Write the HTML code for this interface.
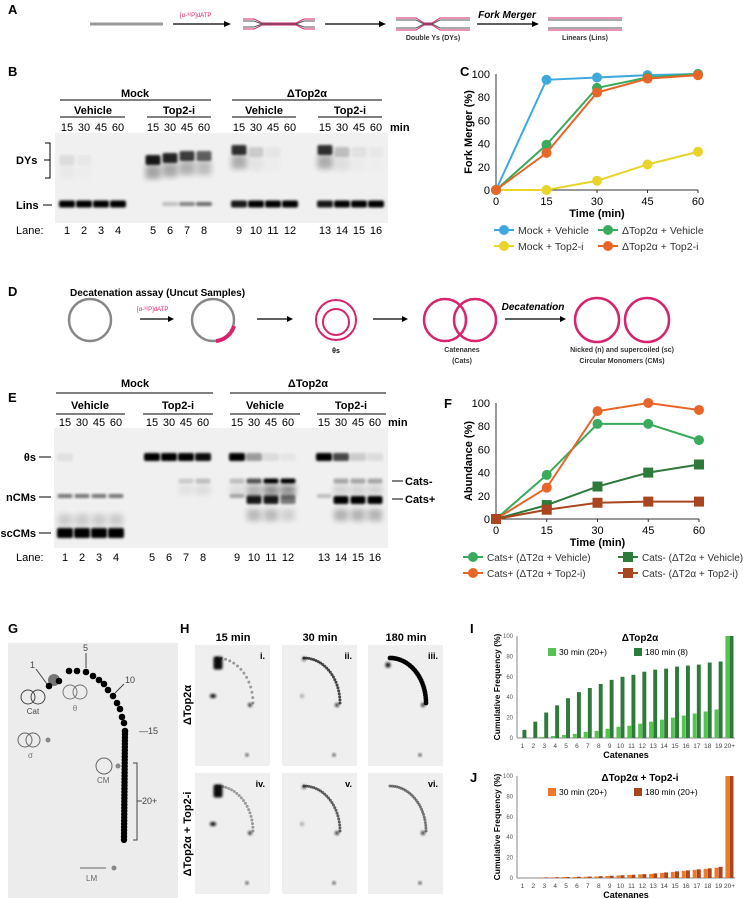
<!DOCTYPE html>
<html><head><meta charset="utf-8">
<style>
body{margin:0;background:#fff;}
svg{display:block;font-family:"Liberation Sans",sans-serif;}
.pl{font-weight:bold;font-size:13px;}
.t{font-size:11px;}
.hb{font-size:11px;font-weight:bold;}
</style></head><body>
<svg id="fig" width="743" height="898" viewBox="0 0 743 898" xmlns="http://www.w3.org/2000/svg">
<defs>
<filter id="bl" x="-50%" y="-50%" width="200%" height="200%"><feGaussianBlur stdDeviation="1.2"/></filter>
<filter id="bl2" x="-50%" y="-50%" width="200%" height="200%"><feGaussianBlur stdDeviation="3"/></filter>
</defs>
<!-- Panel A -->
<g>
<text class="pl" x="8" y="14">A</text>
<line x1="90" y1="24" x2="163" y2="24" stroke="#999" stroke-width="3"/>
<line x1="173" y1="24" x2="224" y2="24" stroke="#000" stroke-width="1.2"/><polygon points="224,21 231,24 224,27"/>
<text x="180" y="17" font-size="6" fill="#d6246e">[α-³²P]dATP</text>
<g fill="none" stroke-width="1">
<path d="M243,19 L254,19 L262,23 L296,23 L304,19 L315,19" stroke="#d6246e"/>
<path d="M243,29 L254,29 L262,25 L296,25 L304,29 L315,29" stroke="#d6246e"/>
<path d="M243,21 L254,21 L262,24 L296,24 L304,21 L315,21" stroke="#555"/>
<path d="M243,27 L254,27 L262,24 L296,24 L304,27 L315,27" stroke="#555"/>
</g>
<line x1="325" y1="24" x2="379" y2="24" stroke="#000" stroke-width="1.2"/><polygon points="379,21 386,24 379,27"/>
<g fill="none" stroke-width="1">
<path d="M396,18 L416,18 L424,23 L432,23 L440,18 L470,18" stroke="#d6246e"/>
<path d="M396,30 L416,30 L424,25 L432,25 L440,30 L470,30" stroke="#d6246e"/>
<path d="M396,20 L416,20 L424,24 L432,24 L440,20 L470,20" stroke="#555"/>
<path d="M396,28 L416,28 L424,24 L432,24 L440,28 L470,28" stroke="#555"/>
</g>
<text x="433" y="40" font-size="7" font-weight="bold" text-anchor="middle" fill="#333">Double Ys (DYs)</text>
<line x1="477" y1="24" x2="532" y2="24" stroke="#000" stroke-width="1.2"/><polygon points="532,21 539,24 532,27"/>
<text x="507" y="18" font-size="10" font-weight="bold" font-style="italic" text-anchor="middle">Fork Merger</text>
<g stroke-width="1"><line x1="548" y1="18" x2="622" y2="18" stroke="#d6246e"/><line x1="548" y1="20" x2="622" y2="20" stroke="#555"/><line x1="548" y1="28" x2="622" y2="28" stroke="#555"/><line x1="548" y1="30" x2="622" y2="30" stroke="#d6246e"/></g>
<text x="585" y="40" font-size="7" font-weight="bold" text-anchor="middle" fill="#333">Linears (Lins)</text>
</g>
<!-- Panel B gel -->
<g id="gelB">
<text class="pl" x="8" y="76">B</text>
<text class="hb" x="135" y="97" text-anchor="middle">Mock</text>
<text class="hb" x="307" y="97" text-anchor="middle">ΔTop2α</text>
<line x1="60" y1="100" x2="211" y2="100" stroke="#000"/><line x1="232" y1="100" x2="382" y2="100" stroke="#000"/>
<text class="hb" x="93" y="114" text-anchor="middle">Vehicle</text><text class="hb" x="179" y="114" text-anchor="middle">Top2-i</text>
<text class="hb" x="264" y="114" text-anchor="middle">Vehicle</text><text class="hb" x="350" y="114" text-anchor="middle">Top2-i</text>
<line x1="60" y1="117" x2="125" y2="117" stroke="#000"/><line x1="147" y1="117" x2="211" y2="117" stroke="#000"/>
<line x1="232" y1="117" x2="296" y2="117" stroke="#000"/><line x1="318" y1="117" x2="382" y2="117" stroke="#000"/>
<text class="hb" x="390" y="131">min</text>
<rect x="55" y="133" width="333" height="90" fill="#f0f0f0"/>
<text class="hb" x="16" y="164">DYs</text><text class="hb" x="16" y="209">Lins</text>
<path d="M45,143 L50,143 L50,178 L45,178 M44,160 L50,160" fill="none" stroke="#000"/>
<line x1="43" y1="205" x2="52" y2="205" stroke="#000"/>
<text class="t" x="16" y="234">Lane:</text>
</g>
<!-- Panel C -->
<g id="chartC"><text class="pl" x="460" y="76">C</text></g>
<!-- Panel D -->
<g>
<text class="pl" x="8" y="296">D</text>
<text x="70" y="296" font-size="10" font-weight="bold">Decatenation assay (Uncut Samples)</text>
<circle cx="90" cy="320" r="21" fill="none" stroke="#888" stroke-width="2.5"/>
<line x1="140" y1="319" x2="168" y2="319" stroke="#000" stroke-width="1.2"/><polygon points="168,316 174,319 168,322"/>
<text x="137" y="311" font-size="6" fill="#d6246e">[α-³²P]dATP</text>
<circle cx="213" cy="320" r="21" fill="none" stroke="#888" stroke-width="2.5"/>
<path d="M216,341 A21,21 0 0 0 234,326" fill="none" stroke="#d6246e" stroke-width="4"/>
<line x1="257" y1="319" x2="287" y2="319" stroke="#000" stroke-width="1.2"/><polygon points="287,316 293,319 287,322"/>
<circle cx="336" cy="320" r="20" fill="none" stroke="#d6246e" stroke-width="2"/>
<circle cx="336" cy="322" r="13" fill="none" stroke="#d6246e" stroke-width="2"/>
<text x="336" y="353" font-size="7" font-weight="bold" text-anchor="middle">θs</text>
<line x1="373" y1="319" x2="402" y2="319" stroke="#000" stroke-width="1.2"/><polygon points="402,316 408,319 402,322"/>
<circle cx="445" cy="320" r="21" fill="none" stroke="#d6246e" stroke-width="2.5"/>
<circle cx="475" cy="320" r="21" fill="none" stroke="#d6246e" stroke-width="2.5"/>
<text x="462" y="352" font-size="7" font-weight="bold" text-anchor="middle" fill="#333">Catenanes</text><text x="462" y="363" font-size="7" font-weight="bold" text-anchor="middle" fill="#333">(Cats)</text>
<line x1="505" y1="319" x2="560" y2="319" stroke="#000" stroke-width="1.2"/><polygon points="560,316 566,319 560,322"/>
<text x="533" y="310" font-size="10" font-weight="bold" font-style="italic" text-anchor="middle">Decatenation</text>
<circle cx="597" cy="320" r="22" fill="none" stroke="#d6246e" stroke-width="2.5"/>
<circle cx="647" cy="320" r="22" fill="none" stroke="#d6246e" stroke-width="2.5"/>
<text x="622" y="352" font-size="7" font-weight="bold" text-anchor="middle" fill="#333">Nicked (n) and supercoiled (sc)</text>
<text x="622" y="363" font-size="7" font-weight="bold" text-anchor="middle" fill="#333">Circular Monomers (CMs)</text>
</g>
<!-- Panel E gel -->
<g id="gelE">
<text class="pl" x="8" y="402">E</text>
<text class="hb" x="135" y="387" text-anchor="middle">Mock</text>
<text class="hb" x="308" y="387" text-anchor="middle">ΔTop2α</text>
<line x1="56" y1="393" x2="213" y2="393" stroke="#000"/><line x1="230" y1="393" x2="386" y2="393" stroke="#000"/>
<text class="hb" x="90" y="409" text-anchor="middle">Vehicle</text><text class="hb" x="178" y="409" text-anchor="middle">Top2-i</text>
<text class="hb" x="265" y="409" text-anchor="middle">Vehicle</text><text class="hb" x="351" y="409" text-anchor="middle">Top2-i</text>
<line x1="56" y1="414" x2="125" y2="414" stroke="#000"/><line x1="143" y1="414" x2="213" y2="414" stroke="#000"/>
<line x1="230" y1="414" x2="300" y2="414" stroke="#000"/><line x1="317" y1="414" x2="386" y2="414" stroke="#000"/>
<text class="hb" x="388" y="426">min</text>
<rect x="54" y="428" width="334" height="120" fill="#f0f0f0"/>
<text class="hb" x="36" y="461" text-anchor="end">θs</text><text class="hb" x="36" y="501" text-anchor="end">nCMs</text><text class="hb" x="36" y="537" text-anchor="end">scCMs</text>
<line x1="39" y1="457" x2="51" y2="457" stroke="#000"/><line x1="39" y1="497" x2="51" y2="497" stroke="#000"/><line x1="39" y1="533" x2="51" y2="533" stroke="#000"/>
<line x1="392" y1="481" x2="403" y2="481" stroke="#000"/><line x1="392" y1="499" x2="403" y2="499" stroke="#000"/>
<text class="hb" x="405" y="485">Cats-</text><text class="hb" x="405" y="503">Cats+</text>
<text class="t" x="16" y="561">Lane:</text>
</g>
<!-- Panel F -->
<g id="chartF"><text class="pl" x="444" y="408">F</text></g>
<!-- Panel G -->
<g id="panelG">
<text class="pl" x="8" y="633">G</text>
<rect x="8" y="643" width="170" height="255" fill="#ececec"/>
<circle cx="28" cy="697" r="7" fill="none" stroke="#444"/><circle cx="38" cy="697" r="7" fill="none" stroke="#444"/>
<text x="33" y="714" font-size="8" text-anchor="middle" fill="#444">Cat</text>
<circle cx="70" cy="692" r="7" fill="none" stroke="#777"/><circle cx="80" cy="692" r="7" fill="none" stroke="#777"/>
<text x="75" y="711" font-size="8" text-anchor="middle" fill="#777">θ</text>
<circle cx="54" cy="680" r="6" fill="#777"/>
<text x="30" y="668" font-size="9" fill="#444">1</text><line x1="36" y1="669" x2="47" y2="684" stroke="#444"/>
<text x="83" y="651" font-size="9" fill="#444">5</text><line x1="86" y1="653" x2="86" y2="668" stroke="#444"/>
<text x="125" y="683" font-size="9" fill="#444">10</text><line x1="124" y1="684" x2="115" y2="693" stroke="#444"/>
<text x="139" y="734" font-size="9" fill="#444">—15</text>
<path d="M133,763 L137,763 L137,840 L133,840 M137,801 L142,801" fill="none" stroke="#444"/>
<text x="142" y="804" font-size="9" fill="#444">20+</text>
<circle cx="25" cy="740" r="7" fill="none" stroke="#666"/><circle cx="33" cy="740" r="7" fill="none" stroke="#666"/>
<circle cx="48" cy="740" r="2.5" fill="#888"/><text x="28" y="758" font-size="8" fill="#666">σ</text>
<circle cx="104" cy="766" r="8" fill="none" stroke="#666"/>
<circle cx="118" cy="766" r="2.5" fill="#888"/><text x="97" y="783" font-size="8" fill="#666">CM</text>
<line x1="80" y1="868" x2="106" y2="868" stroke="#666"/><circle cx="114" cy="868" r="2.5" fill="#888"/>
<text x="86" y="881" font-size="8" fill="#666">LM</text>
</g>
<!-- Panel H -->
<g id="panelH">
<text class="pl" x="180" y="633">H</text>
<text class="hb" x="233" y="641" text-anchor="middle">15 min</text>
<text class="hb" x="320" y="641" text-anchor="middle">30 min</text>
<text class="hb" x="406" y="641" text-anchor="middle">180 min</text>
<text class="hb" transform="translate(191,705) rotate(-90)" text-anchor="middle">ΔTop2α</text>
<text class="hb" transform="translate(191,834) rotate(-90)" text-anchor="middle">ΔTop2α + Top2-i</text>
</g>
<!-- Panel I/J -->
<g id="chartI"><text class="pl" x="470" y="633">I</text></g>
<g id="chartJ"><text class="pl" x="470" y="782">J</text></g>
</svg>
<script>
// ---- Data ----
const timesC = [0, 15, 30, 45, 60];
const mockVehicle = [0, 95, 97, 99, 100];
const mockTop2i = [0, 0, 8, 22, 33];
const dTopVehicle = [0, 39, 88, 97, 100];
const dTopTop2i = [0, 32, 84, 96, 99];
const yTicksPct = [0, 20, 40, 60, 80, 100];
const timesF = [0, 15, 30, 45, 60];
const catsPlusVeh = [0, 38, 82, 82, 68];
const catsPlusTop = [0, 27, 93, 100, 94];
const catsMinusVeh = [0, 12, 28, 40, 47];
const catsMinusTop = [0, 8, 14, 15, 15];
const catenanes = ["1","2","3","4","5","6","7","8","9","10","11","12","13","14","15","16","17","18","19","20+"];
const i30 = [0,0,1,2,3,4,6,7,9,11,12,14,16,18,20,22,24,26,28,100];
const i180 = [8,16,25,32,39,45,49,53,57,60,62,65,67,68,70,71,72,74,75,100];
const j30 = [0,0,0.5,0.7,1,1,1.2,1.5,2,2.5,3,3.5,4,5,6,7,8,9,10,100];
const j180 = [0,0,0.6,0.8,1,1.2,1.4,1.8,2.2,2.7,3.2,3.8,4.5,5.5,6.5,7.5,8.5,9.5,11,100];
const laneLabels = ["15","30","45","60"];

const NS = "http://www.w3.org/2000/svg";
function mk(parent, tag, attrs, txt){const e=document.createElementNS(NS,tag);for(const k in attrs)e.setAttribute(k,attrs[k]);if(txt!==undefined)e.textContent=txt;parent.appendChild(e);return e;}

function lineChart(gid, times, series, box, yTitle, legend){
  const g=document.getElementById(gid);
  const xs=t=>box.x0+(t-0)/(60-0)*(box.x1-box.x0);
  const ys=v=>box.y0-(v/100)*(box.y0-box.y1);
  mk(g,'line',{x1:box.x0,y1:box.y0,x2:box.x1,y2:box.y0,stroke:'#333'});
  mk(g,'line',{x1:box.x0,y1:box.y0,x2:box.x0,y2:box.y1,stroke:'#333'});
  yTicksPct.forEach(v=>{const t=mk(g,'text',{x:box.x0-6,y:ys(v)+4,'text-anchor':'end','font-size':11},String(v));
    
    });
  times.forEach(v=>{mk(g,'line',{x1:xs(v),y1:box.y0,x2:xs(v),y2:box.y0+3,stroke:'#333'});
    const t=mk(g,'text',{x:xs(v),y:box.y0+15,'text-anchor':'middle','font-size':11},String(v));
    
    });
  const xt=mk(g,'text',{x:(box.x0+box.x1)/2,y:box.y0+27,'text-anchor':'middle','font-size':11,'font-weight':'bold'},'Time (min)');
  
  
  const yt=mk(g,'text',{transform:`translate(${box.x0-24},${(box.y0+box.y1)/2}) rotate(-90)`,'text-anchor':'middle','font-size':11,'font-weight':'bold'},yTitle);
  
  
  series.forEach(s=>{
    const pts=s.v.map((v,i)=>xs(times[i])+','+ys(v)).join(' ');
    const pl=mk(g,'polyline',{points:pts,fill:'none',stroke:s.c,'stroke-width':2});
    
    
    s.v.forEach((v,i)=>{
      let m;
      if(s.sq) m=mk(g,'rect',{x:xs(times[i])-5,y:ys(v)-5,width:10,height:10,fill:s.c});
      else m=mk(g,'circle',{cx:xs(times[i]),cy:ys(v),r:5,fill:s.c});
      
      
    });
  });
  legend.forEach(l=>{
    const s=series[l.i];
    mk(g,'line',{x1:l.x,y1:l.y,x2:l.x+20,y2:l.y,stroke:s.c,'stroke-width':2});
    if(s.sq) mk(g,'rect',{x:l.x+5,y:l.y-5,width:10,height:10,fill:s.c}); else mk(g,'circle',{cx:l.x+10,cy:l.y,r:5,fill:s.c});
    const t=mk(g,'text',{x:l.x+24,y:l.y+4,'font-size':l.fs||10.5,fill:'#333'},s.n);
    
    
  });
}
lineChart('chartC',timesC,[
 {n:'Mock + Vehicle',v:mockVehicle,c:'#3fa9df'},
 {n:'Mock + Top2-i',v:mockTop2i,c:'#e8d42a'},
 {n:'ΔTop2α + Vehicle',v:dTopVehicle,c:'#3aaa5c'},
 {n:'ΔTop2α + Top2-i',v:dTopTop2i,c:'#e8652a'}],
 {x0:496,x1:698,y0:190,y1:74},'Fork Merger (%)',
 [{i:0,x:494,y:230},{i:1,x:494,y:246},{i:2,x:598,y:230},{i:3,x:598,y:246}]);
lineChart('chartF',timesF,[
 {n:'Cats+ (ΔT2α + Vehicle)',v:catsPlusVeh,c:'#3aaa5c'},
 {n:'Cats+ (ΔT2α + Top2-i)',v:catsPlusTop,c:'#e8652a'},
 {n:'Cats- (ΔT2α + Vehicle)',v:catsMinusVeh,c:'#2e7a3a',sq:true},
 {n:'Cats- (ΔT2α + Top2-i)',v:catsMinusTop,c:'#a9461f',sq:true}],
 {x0:496,x1:699,y0:519,y1:403},'Abundance (%)',
 [{i:0,x:463,y:557,fs:10},{i:1,x:463,y:573,fs:10},{i:2,x:618,y:557,fs:10},{i:3,x:618,y:573,fs:10}]);

function barChart(gid,a,b,ca,cb,box,title,la,lb){
  const g=document.getElementById(gid);
  const n=catenanes.length, step=(box.x1-box.x0)/n;
  const ys=v=>box.y0-(v/100)*(box.y0-box.y1);
  mk(g,'line',{x1:box.x0,y1:box.y0,x2:box.x1,y2:box.y0,stroke:'#888'});
  mk(g,'line',{x1:box.x0,y1:box.y0,x2:box.x0,y2:box.y1,stroke:'#888'});
  [0,20,40,60,80,100].forEach(v=>{const t=mk(g,'text',{x:box.x0-4,y:ys(v)+2,'text-anchor':'end','font-size':6,fill:'#555'},String(v));
    
    });
  catenanes.forEach((c,i)=>{
    const cx=box.x0+step*(i+0.5);
    const r1=mk(g,'rect',{x:cx-step*0.38,y:ys(a[i]),width:step*0.36,height:box.y0-ys(a[i]),fill:ca});
    
    
    const r2=mk(g,'rect',{x:cx,y:ys(b[i]),width:step*0.36,height:box.y0-ys(b[i]),fill:cb});
    
    
    const t=mk(g,'text',{x:cx,y:box.y0+10,'text-anchor':'middle','font-size':6.5,fill:'#444'},c);
    
    
  });
  const xt=mk(g,'text',{x:(box.x0+box.x1)/2,y:box.y0+20,'text-anchor':'middle','font-size':9,'font-weight':'bold'},'Catenanes');
  
  
  const yt=mk(g,'text',{transform:`translate(${box.x0-17},${(box.y0+box.y1)/2}) rotate(-90)`,'text-anchor':'middle','font-size':8.5,'font-weight':'bold'},'Cumulative Frequency (%)');
  
  
  const tt=mk(g,'text',{x:640,y:box.y1+5,'text-anchor':'middle','font-size':10,'font-weight':'bold'},title);
  
  
  mk(g,'rect',{x:548,y:box.y1+12,width:8,height:8,fill:ca});
  mk(g,'text',{x:559,y:box.y1+19,'font-size':8.5},la);
  mk(g,'rect',{x:634,y:box.y1+12,width:8,height:8,fill:cb});
  mk(g,'text',{x:645,y:box.y1+19,'font-size':8.5},lb);
}
barChart('chartI',i30,i180,'#56c24f','#2e7a3a',{x0:517,x1:735,y0:738,y1:636},'ΔTop2α','30 min (20+)','180 min (8)');
barChart('chartJ',j30,j180,'#ec7a2a','#a9461f',{x0:517,x1:735,y0:878,y1:776},'ΔTop2α + Top2-i','30 min (20+)','180 min (20+)');

// ---- Gels ----
const groupStartB=[67,153,239,325];
const groupStartE=[65,152,237,324];
const lanePitch=17;
function laneLabelsDraw(gid, starts, yNum, yLane){
  const g=document.getElementById(gid);
  starts.forEach((s,gi)=>laneLabels.forEach((l,i)=>{
    const t=mk(g,'text',{x:s+i*lanePitch,y:yNum,'text-anchor':'middle','font-size':11},l);
    
    
    const n=mk(g,'text',{x:s+i*lanePitch,y:yLane,'text-anchor':'middle','font-size':11},String(gi*4+i+1));
    
    
  }));
}
function band(g,x,y,w,h,op,blur){mk(g,'rect',{x:x-w/2,y:y-h/2,width:w,height:h,fill:'#000',opacity:op,filter:blur?'url(#bl2)':'url(#bl)',rx:2});}
laneLabelsDraw('gelB',groupStartB,131,234);
laneLabelsDraw('gelE',groupStartE,426,561);
(function(){
  const g=document.getElementById('gelB');
  const dys=[[0.08,0.03,0,0],[0.9,0.85,0.75,0.6],[0.8,0.15,0.04,0],[0.8,0.2,0.06,0.03]];
  const dyY=[[160,160,160,160],[160,158,156,156],[150,152,152,152],[150,152,152,152]];
  const lins=[[1,1,1,1],[0,0.2,0.45,0.55],[0.9,1,1,1],[0.9,1,1,1]];
  groupStartB.forEach((s,gi)=>{for(let i=0;i<4;i++){const x=s+i*lanePitch;
    if(dys[gi][i]>0){band(g,x,dyY[gi][i],15,10,dys[gi][i]);band(g,x,dyY[gi][i]+12,15,14,dys[gi][i]*0.35,true);}
    if(lins[gi][i]>0) band(g,x,204,16,lins[gi][i]>0.8?7:4,lins[gi][i]);}});
})();
(function(){
  const g=document.getElementById('gelE');
  const th=[[0.06,0,0,0],[1,1,1,0.95],[1,0.35,0.08,0.04],[1,0.7,0.15,0.08]];
  const nc=[[0.5,0.5,0.5,0.5],[0,0,0,0],[0.3,0.3,0.3,0.3],[0.2,0,0,0]];
  const cm=[[0,0,0,0],[0,0,0.15,0.2],[0.2,0.65,1,1],[0,0.3,0.3,0.3]];
  const cp=[[0,0,0,0],[0,0,0,0],[0,0.9,0.9,0.5],[0,1,1,1]];
  const sc=[[1,1,1,1],[0,0,0,0],[0,0,0,0],[0,0,0,0]];
  groupStartE.forEach((s,gi)=>{for(let i=0;i<4;i++){const x=s+i*lanePitch;
    if(th[gi][i]>0) band(g,x,457,16,8,th[gi][i]);
    if(nc[gi][i]>0) band(g,x,496,15,4,nc[gi][i]);
    if(cm[gi][i]>0){band(g,x,481,15,5,cm[gi][i]);band(g,x,490,15,10,cm[gi][i]*0.4,true);}
    if(cp[gi][i]>0){band(g,x,500,15,8,cp[gi][i]);band(g,x,515,14,12,cp[gi][i]*0.25,true);}
    if(sc[gi][i]>0){band(g,x,533,16,10,sc[gi][i]);band(g,x,520,14,12,0.15,true);}
  }});
})();
// ---- Panel G dot path (decorative schematic) ----
(function(){
  const g=document.getElementById('panelG');
  const arc=[[49,686],[59,681],[69,671],[77,671],[86,672],[93,676],[99,680],[104,684],[108,690],[113,696],[117,703],[120,709],[122,717],[124,723],[125,731]];
  arc.forEach(p=>mk(g,'circle',{cx:p[0],cy:p[1],r:3.3,fill:'#000'}));
  for(let k=1;k<=34;k++){mk(g,'circle',{cx:125-0.03*k,cy:731+k*3.2,r:3.2,fill:'#000'});}
})();
// ---- Panel H 2D gels ----
(function(){
  const g=document.getElementById('panelH');
  const cols=[195,282,368], rows=[645,773];
  const arcN=[[14,24,28],[20,24,26]];
  const arcOp=[[0.35,0.7,0.95],[0.35,0.6,0.5]];
  rows.forEach((ry,ri)=>cols.forEach((cx,ci)=>{
    mk(g,'rect',{x:cx,y:ry,width:75,height:121,fill:'#efefef'});
    mk(g,'text',{x:cx+70,y:ry+14,'font-size':9,'font-weight':'bold','text-anchor':'end'},['i.','ii.','iii.','iv.','v.','vi.'][ri*3+ci]);
    if(ci==0){band(g,cx+23,ry+18,9,13,0.95);band(g,cx+18,ry+51,6,4,0.9);}
    else if(ci==1){band(g,cx+22,ry+14,4,4,0.6);band(g,cx+20,ry+51,4,4,0.3);}
    else if(ri==0){band(g,cx+20,ry+20,5,5,0.9);}
    band(g,cx+55,ry+60,4,4,0.8);
    band(g,cx+52,ry+110,3,3,0.8);
    const n=arcN[ri][ci];
    for(let k=0;k<n;k++){const a=Math.PI/2*(1-k/(n-1));
      mk(g,'circle',{cx:cx+22+36*Math.cos(a),cy:ry+58-45*Math.sin(a),r:ci==2&&ri==0?2.4:1.5,fill:'#000',opacity:arcOp[ri][ci]});}
    const w=ri==1&&ci>0?5:2;
    mk(g,'path',{d:`M${cx+58},${ry+58} L${cx+58},${ry+95}`,stroke:'#000','stroke-width':w,opacity:ri==1&&ci>0?0.9:0.35,fill:'none',filter:'url(#bl)'});
  }));
})();
</script>
</body></html>
